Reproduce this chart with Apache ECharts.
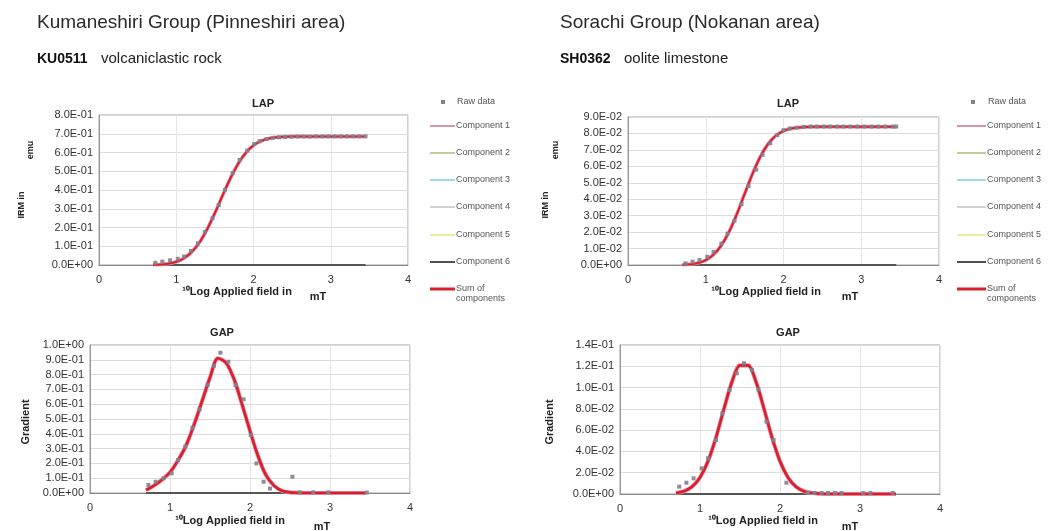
<!DOCTYPE html>
<html>
<head>
  <meta charset="utf-8">
  <title>IRM component analysis</title>
  <script src="https://cdn.jsdelivr.net/npm/echarts@6/dist/echarts.min.js"></script>
  <style>
    body { margin: 0; background: #fff; }
    #chart { width: 1049px; height: 531px; }
  </style>
</head>
<body>
  <div id="chart"></div>
  <script>
    // x positions of the fitted curves (10Log applied field, mT)
    const fitX = [0.7, 0.8, 0.9, 1.0, 1.1, 1.2, 1.3, 1.4, 1.5, 1.6, 1.7, 1.8, 1.9, 2.0, 2.1, 2.2, 2.3, 2.4, 2.5, 2.6, 2.7, 2.8, 2.9, 3.0, 3.1, 3.2, 3.3, 3.4, 3.45];

    // KU0511 - Kumaneshiri Group
    const kuLapFit = [0.001, 0.003, 0.007, 0.017, 0.036, 0.069, 0.12, 0.191, 0.277, 0.371, 0.461, 0.539, 0.598, 0.638, 0.662, 0.675, 0.681, 0.684, 0.685, 0.685, 0.685, 0.685, 0.685, 0.685, 0.685, 0.685, 0.685, 0.685, 0.685];
    const kuGapFit = [0.02, 0.05, 0.09, 0.14, 0.22, 0.32, 0.46, 0.62, 0.78, 0.91, 0.88, 0.77, 0.60, 0.42, 0.25, 0.12, 0.05, 0.015, 0.004, 0.001, 0, 0, 0, 0, 0, 0, 0, 0, 0];
    const kuLapRawX = [0.73, 0.82, 0.92, 1.02, 1.10, 1.19, 1.28, 1.37, 1.47, 1.55, 1.63, 1.73, 1.82, 1.92, 2.01, 2.08, 2.17, 2.25, 2.33, 2.41, 2.49, 2.57, 2.65, 2.73, 2.81, 2.89, 2.97, 3.05, 3.13, 3.21, 3.29, 3.37, 3.45];
    const kuLapRaw = [0.012, 0.018, 0.025, 0.033, 0.045, 0.075, 0.115, 0.175, 0.25, 0.32, 0.40, 0.49, 0.56, 0.61, 0.645, 0.66, 0.672, 0.678, 0.681, 0.683, 0.684, 0.685, 0.685, 0.685, 0.686, 0.686, 0.686, 0.686, 0.686, 0.686, 0.686, 0.686, 0.686];
    const kuGapRawX = [0.73, 0.82, 0.92, 1.02, 1.10, 1.19, 1.28, 1.37, 1.47, 1.55, 1.63, 1.73, 1.82, 1.92, 2.01, 2.08, 2.17, 2.25, 2.53, 2.62, 2.79, 2.98, 3.46];
    const kuGapRaw = [0.054, 0.076, 0.099, 0.133, 0.223, 0.313, 0.44, 0.565, 0.73, 0.86, 0.948, 0.887, 0.73, 0.633, 0.392, 0.2, 0.076, 0.03, 0.11, 0.005, 0.005, 0.005, 0.003];

    // SH0362 - Sorachi Group
    const shLapFit = [0.0001, 0.0004, 0.0012, 0.0029, 0.0063, 0.0119, 0.0202, 0.031, 0.0432, 0.0553, 0.0657, 0.0735, 0.0786, 0.0815, 0.083, 0.0836, 0.0839, 0.084, 0.084, 0.084, 0.084, 0.084, 0.084, 0.084, 0.084, 0.084, 0.084, 0.084, 0.084];
    const shGapFit = [0.0009, 0.0026, 0.0068, 0.0155, 0.0307, 0.0531, 0.0801, 0.1054, 0.1209, 0.1209, 0.1054, 0.0801, 0.0531, 0.0307, 0.0155, 0.0068, 0.0026, 0.0009, 0.0003, 0, 0, 0, 0, 0, 0, 0, 0, 0, 0];
    const shLapRawX = [0.74, 0.83, 0.92, 1.02, 1.10, 1.20, 1.28, 1.37, 1.46, 1.55, 1.65, 1.73, 1.83, 1.92, 2.0, 2.08, 2.17, 2.26, 2.35, 2.43, 2.52, 2.6, 2.69, 2.77, 2.86, 2.95, 3.04, 3.13, 3.22, 3.31, 3.41, 3.45];
    const shLapRaw = [0.001, 0.002, 0.003, 0.005, 0.008, 0.013, 0.019, 0.027, 0.037, 0.048, 0.058, 0.067, 0.074, 0.079, 0.082, 0.083, 0.0835, 0.084, 0.0842, 0.0842, 0.0842, 0.0842, 0.0842, 0.0842, 0.0842, 0.0842, 0.0842, 0.0842, 0.0842, 0.0842, 0.0842, 0.0842];
    const shGapRawX = [0.74, 0.83, 0.92, 1.02, 1.10, 1.20, 1.28, 1.37, 1.46, 1.55, 1.65, 1.73, 1.83, 1.92, 2.08, 2.35, 2.43, 2.52, 2.6, 2.69, 2.77, 3.04, 3.13, 3.41];
    const shGapRaw = [0.0069, 0.0106, 0.0147, 0.0241, 0.0335, 0.0507, 0.0758, 0.0977, 0.1134, 0.1228, 0.1165, 0.0984, 0.068, 0.0507, 0.0106, 0.001, 0.001, 0.001, 0.001, 0.001, 0.001, 0.001, 0.001, 0.001];

    // flat components (2..6) lie on zero
    const zeroCompX = [0.7, 3.45];
    const zeroComp = [0, 0];

    const legendNames = ['Component 1', 'Component 2', 'Component 3', 'Component 4', 'Component 5', 'Component 6'];
    const legendColors = ['#d0708a', '#b4b878', '#80d0d8', '#c4c4c4', '#e6e684', '#505050'];

    const FONT = 'Liberation Sans, Arial, sans-serif';
    const RED = '#d91f2b';

    function zip(xs, ys) {
      return xs.map((x, i) => [x, ys[i]]);
    }

    function fmtE(v) {
      let s = Number(v).toExponential(1).split('e');
      let n = parseInt(s[1]);
      return s[0] + 'E' + (n < 0 ? '-' : '+') + String(Math.abs(n)).padStart(2, '0');
    }

    const panels = [
      { grid: { left: 99, top: 115, width: 309, height: 150 }, max: 0.8, step: 0.1, fit: kuLapFit, rx: kuLapRawX, ry: kuLapRaw, lw: 2 },
      { grid: { left: 628, top: 117, width: 311, height: 148 }, max: 0.09, step: 0.01, fit: shLapFit, rx: shLapRawX, ry: shLapRaw, lw: 2 },
      { grid: { left: 90, top: 345, width: 320, height: 148 }, max: 1.0, step: 0.1, fit: kuGapFit, rx: kuGapRawX, ry: kuGapRaw, lw: 2.6 },
      { grid: { left: 620, top: 345, width: 320, height: 149 }, max: 0.14, step: 0.02, fit: shGapFit, rx: shGapRawX, ry: shGapRaw, lw: 2.6 }
    ];

    let grids = [], xAxes = [], yAxes = [], series = [];
    panels.forEach((p, i) => {
      grids.push(Object.assign({ show: true, borderColor: '#a0a0a0', borderWidth: 1, backgroundColor: '#fff' }, p.grid));
      xAxes.push({
        type: 'value', gridIndex: i, min: 0, max: 4, interval: 1,
        axisLine: { lineStyle: { color: '#888' } },
        axisTick: { show: false },
        axisLabel: { color: '#333', fontSize: 11, fontFamily: FONT, margin: 9 },
        splitLine: { show: true, lineStyle: { color: '#e6e6e6' } }
      });
      yAxes.push({
        type: 'value', gridIndex: i, min: 0, max: p.max, interval: p.step,
        axisLine: { show: true, lineStyle: { color: '#999' } },
        axisTick: { show: false },
        axisLabel: { color: '#333', fontSize: 11, fontFamily: FONT, margin: 6, formatter: fmtE },
        splitLine: { lineStyle: { color: '#dcdcdc' } }
      });
      series.push({
        name: 'Component 6', type: 'line', xAxisIndex: i, yAxisIndex: i,
        data: zip(zeroCompX, zeroComp), showSymbol: false, silent: true,
        lineStyle: { color: '#555', width: 2 }, z: 3
      });
      series.push({
        name: 'Component 1', type: 'line', xAxisIndex: i, yAxisIndex: i,
        data: zip(fitX, p.fit), smooth: 0.3, showSymbol: false,
        lineStyle: { color: '#e48aa0', width: p.lw + 1.5 }, z: 3
      });
      series.push({
        name: 'Sum of components', type: 'line', xAxisIndex: i, yAxisIndex: i,
        data: zip(fitX, p.fit), smooth: 0.3, showSymbol: false,
        lineStyle: { color: RED, width: p.lw }, z: 4
      });
      series.push({
        name: 'Raw data', type: 'scatter', xAxisIndex: i, yAxisIndex: i,
        data: zip(p.rx, p.ry), symbol: 'rect', symbolSize: 4,
        itemStyle: { color: '#85808f', opacity: 0.9 }, z: 5
      });
    });

    // text bits drawn around the plots
    let graphic = [];
    function txt(x, y, text, opt) {
      graphic.push(Object.assign({
        type: 'text', x: x, y: y,
        style: Object.assign({ text: text, fontFamily: FONT, fill: '#222', fontSize: 11, align: 'left', verticalAlign: 'middle' }, opt && opt.style)
      }, opt && opt.el));
    }

    txt(37, 23, 'Kumaneshiri Group (Pinneshiri area)', { style: { fontSize: 19, fill: '#2a2a2a' } });
    txt(560, 23, 'Sorachi Group (Nokanan area)', { style: { fontSize: 19, fill: '#2a2a2a' } });
    txt(37, 59, 'KU0511', { style: { fontSize: 14, fontWeight: 'bold', fill: '#111' } });
    txt(101, 59, 'volcaniclastic rock', { style: { fontSize: 15, fill: '#222' } });
    txt(560, 59, 'SH0362', { style: { fontSize: 14, fontWeight: 'bold', fill: '#111' } });
    txt(624, 59, 'oolite limestone', { style: { fontSize: 15, fill: '#222' } });

    const bold = { fontWeight: 'bold', fontSize: 11, align: 'center' };
    txt(263, 104, 'LAP', { style: bold });
    txt(788, 104, 'LAP', { style: bold });
    txt(222, 333, 'GAP', { style: bold });
    txt(788, 333, 'GAP', { style: bold });

    const xname = { fontWeight: 'bold', fontSize: 11, align: 'center' };
    txt(237, 292, '¹⁰Log Applied field in', { style: xname });
    txt(318, 297, 'mT', { style: xname });
    txt(766, 292, '¹⁰Log Applied field in', { style: xname });
    txt(850, 297, 'mT', { style: xname });
    txt(230, 521, '¹⁰Log Applied field in', { style: xname });
    txt(322, 527, 'mT', { style: xname });
    txt(763, 521, '¹⁰Log Applied field in', { style: xname });
    txt(850, 527, 'mT', { style: xname });

    const yname = { el: { rotation: Math.PI / 2 }, style: { fontWeight: 'bold', fontSize: 9, align: 'center' } };
    txt(22, 205, 'IRM in', yname);
    txt(31, 150, 'emu', yname);
    txt(546, 205, 'IRM in', yname);
    txt(556, 150, 'emu', yname);
    const gname = { el: { rotation: Math.PI / 2 }, style: { fontWeight: 'bold', fontSize: 11, align: 'center' } };
    txt(26, 422, 'Gradient', gname);
    txt(550, 422, 'Gradient', gname);

    // legends
    const legendRows = [126, 153, 180, 207, 235, 262];
    function legend(lx1, lx2, mx) {
      graphic.push({ type: 'rect', shape: { x: mx - 2, y: 100, width: 4, height: 4 }, style: { fill: '#85808f' } });
      txt(lx2 + 2, 102, 'Raw data', { style: { fontSize: 9, fill: '#555' } });
      legendNames.forEach((n, k) => {
        graphic.push({ type: 'line', shape: { x1: lx1, y1: legendRows[k], x2: lx2, y2: legendRows[k] }, style: { stroke: legendColors[k], lineWidth: k == 5 ? 2 : 1.5 } });
        txt(lx2 + 1, legendRows[k], n, { style: { fontSize: 9, fill: '#555' } });
      });
      graphic.push({ type: 'line', shape: { x1: lx1, y1: 289, x2: lx2, y2: 289 }, style: { stroke: RED, lineWidth: 3 } });
      txt(lx2 + 1, 289, 'Sum of', { style: { fontSize: 9, fill: '#555' } });
      txt(lx2 + 1, 299, 'components', { style: { fontSize: 9, fill: '#555' } });
    }
    legend(430, 455, 443);
    legend(957, 986, 973);

    let myChart = echarts.init(document.getElementById('chart'));
    myChart.setOption({
      animation: false,
      backgroundColor: '#fff',
      grid: grids,
      xAxis: xAxes,
      yAxis: yAxes,
      series: series,
      graphic: graphic
    });
  </script>
</body>
</html>
